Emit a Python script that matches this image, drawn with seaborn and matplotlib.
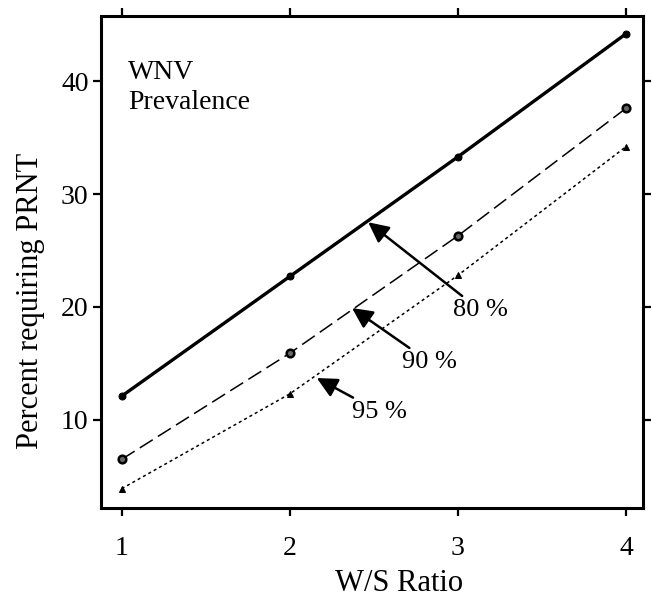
import matplotlib
matplotlib.use("Agg")
import matplotlib.pyplot as plt
import seaborn as sns
import pandas as pd

ratio = [1, 2, 3, 4]
prev80 = [12.1, 22.7, 33.3, 44.2]
prev90 = [6.5, 15.9, 26.3, 37.6]
prev95 = [3.9, 12.3, 22.8, 34.2]
xticks = [1, 2, 3, 4]
yticks = [10, 20, 30, 40]

sns.set_theme(style="ticks")
plt.rcParams['font.family'] = ['Liberation Serif', 'DejaVu Serif']
plt.rcParams['text.color'] = 'black'
plt.rcParams['axes.labelcolor'] = 'black'

fig = plt.figure(figsize=(6.52, 6.01), dpi=100)
ax = fig.add_axes([0.155, 0.155, 0.831, 0.818])

df = pd.DataFrame({"ratio": ratio * 3,
                   "pct": prev80 + prev90 + prev95,
                   "prev": ["80"] * 4 + ["90"] * 4 + ["95"] * 4})

sns.lineplot(data=df[df.prev == "80"], x="ratio", y="pct", ax=ax, color="black",
             linewidth=2.4, marker="o", markersize=5, markeredgecolor="black",
             linestyle="-", legend=False)
sns.lineplot(data=df[df.prev == "90"], x="ratio", y="pct", ax=ax, color="black",
             linewidth=1.1, marker="o", markersize=5.5, markerfacecolor="#666666",
             markeredgecolor="black", markeredgewidth=1.8,
             linestyle=(0, (10, 4)), legend=False)
sns.lineplot(data=df[df.prev == "95"], x="ratio", y="pct", ax=ax, color="black",
             linewidth=1.1, marker="^", markersize=4.5, markeredgecolor="black",
             linestyle=(0, (2, 2)), legend=False)

ax.set_xlim(0.877, 4.1)
ax.set_ylim(2.2, 45.75)
ax.set_xticks(xticks)
ax.set_yticks(yticks)
ax.set_xlabel("W/S Ratio", fontsize=22)
ax.set_ylabel("Percent requiring PRNT", fontsize=22)
ax.xaxis.set_label_coords(0.55, -0.125)
ax.yaxis.set_label_coords(-0.104, 0.42)
for s in ax.spines.values():
    s.set_linewidth(2.2)
    s.set_color("black")
ax.tick_params(axis="both", direction="out", length=6, width=1.6, labelsize=20,
               top=True, right=True, colors="black")
ax.tick_params(axis="x", pad=14)
ax.tick_params(axis="y", pad=3)

ax.text(0.05, 0.91, "WNV\nPrevalence", transform=ax.transAxes, fontsize=20,
        va="top", ha="left", linespacing=1.25)

arrow = dict(arrowstyle="-|>,head_length=0.65,head_width=0.32", color="black", lw=1.8,
             shrinkA=0, shrinkB=0)
ax.annotate("80 %", xy=(2.466, 27.5), xytext=(2.97, 19.7), fontsize=19,
            va="center", ha="left", arrowprops=arrow)
ax.annotate("90 %", xy=(2.37, 19.9), xytext=(2.67, 15.1), fontsize=19,
            va="center", ha="left", arrowprops=arrow)
ax.annotate("95 %", xy=(2.16, 13.7), xytext=(2.37, 10.7), fontsize=19,
            va="center", ha="left", arrowprops=arrow)

fig.savefig("out.png", dpi=100)
